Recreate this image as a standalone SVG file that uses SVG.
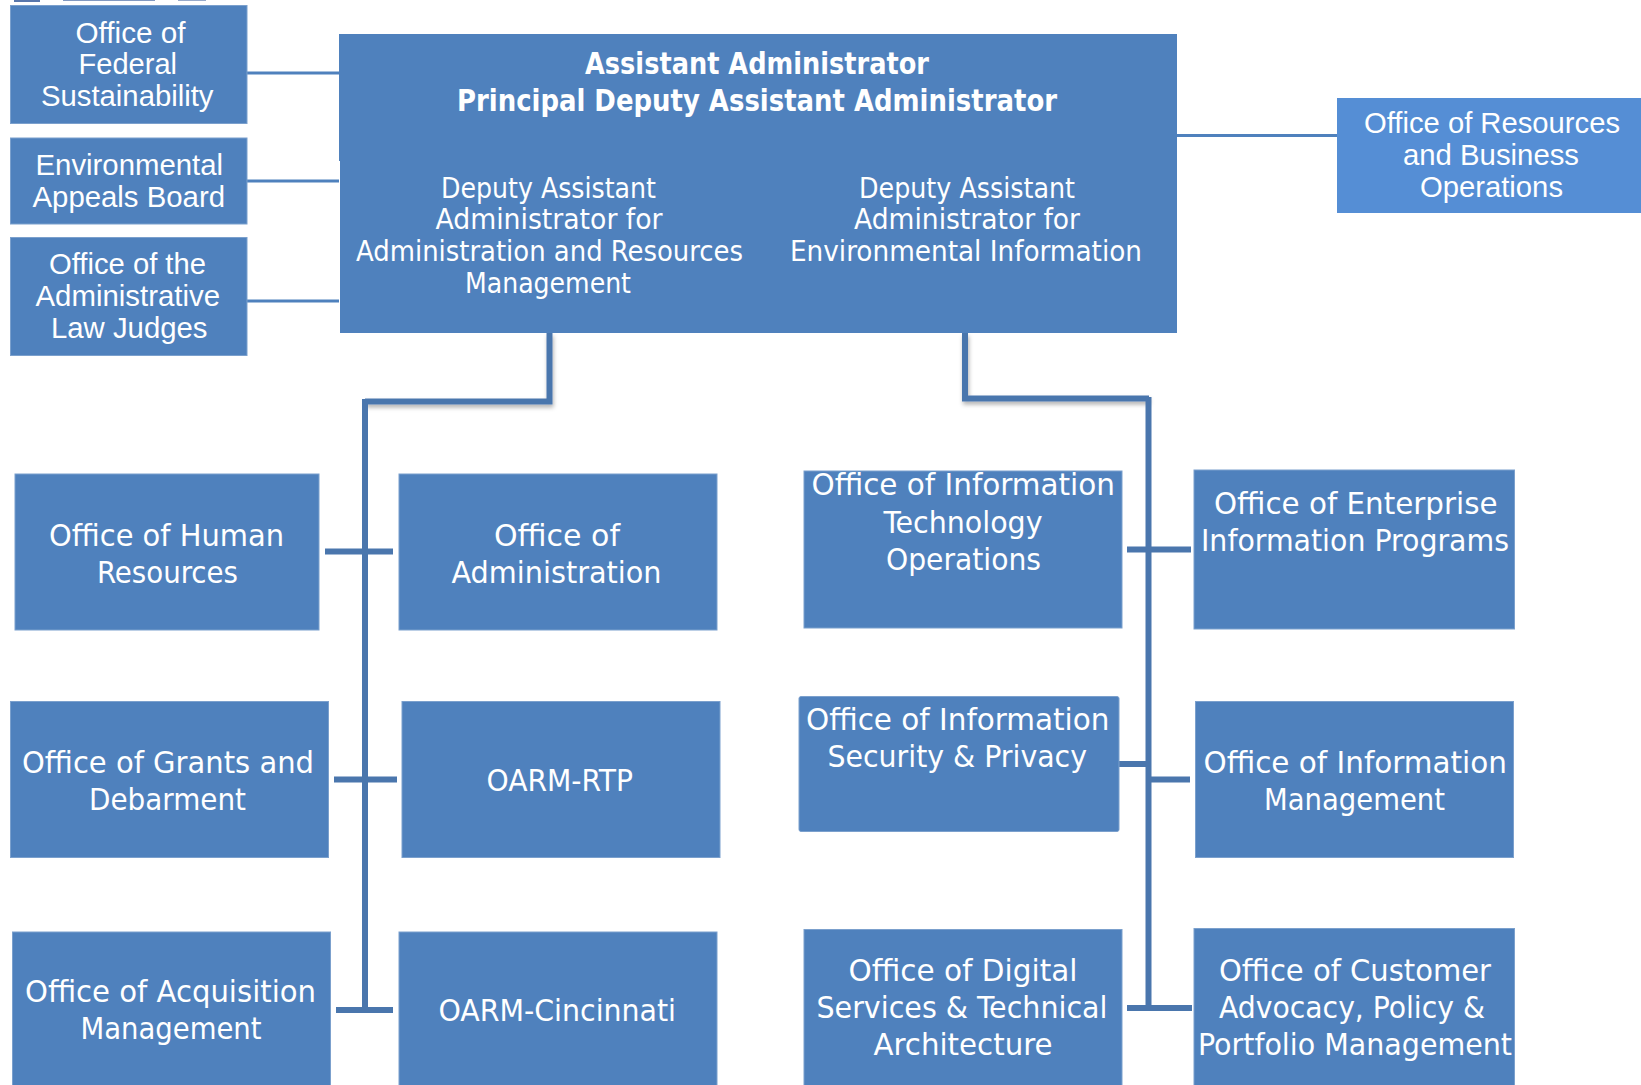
<svg xmlns="http://www.w3.org/2000/svg" width="1641" height="1085" viewBox="0 0 1641 1085">
<style>
.b{fill:#4f81bd;stroke:#7ba0cd;stroke-width:1}
.r{fill:#558ed5}
.p{fill:none;stroke:#4a76ad;stroke-width:6}
.t{fill:none;stroke:#4f81bd;stroke-width:3}
text{fill:#fff}
.a{font-family:"Liberation Sans",Arial,sans-serif;font-size:30px}
.d{font-family:"DejaVu Sans Condensed","DejaVu Sans",sans-serif;font-size:31px}
.s{font-size:28px}
.h{font-weight:bold;font-size:30px}
</style>
<defs><filter id="sh" x="-20%" y="-20%" width="140%" height="140%"><feDropShadow dx="1" dy="3" stdDeviation="2" flood-color="#000" flood-opacity=".3"/></filter></defs>
<g id="logo-fragment" fill="#2f5597"><rect x="14" y="0" width="26" height="2" opacity=".8"/><rect x="63" y="0" width="92" height="1" opacity=".6"/><rect x="178" y="0" width="28" height="1" opacity=".5"/></g>
<g id="connectors">
<path class="t" d="M247 73H339M247 181H339M247 301H339M1176 135.500H1337"/>
<path class="p" filter="url(#sh)" d="M549.500 333V401.500H365M965 333V398.500H1149"/>
<path class="p" d="M365 399V1010M1148.500 397V1008M325 551.500H393M334 779.500H397M336 1010H393M1127 549.500H1191M1119 764H1148M1151 779.500H1190M1127 1008H1192"/>
</g>
<g id="federal"><rect class="b" x="10.500" y="5.500" width="236.500" height="118"/><text class="a" x="75.500" y="42.500" textLength="110" lengthAdjust="spacingAndGlyphs">Office of</text><text class="a" x="78.500" y="74" textLength="98.500" lengthAdjust="spacingAndGlyphs">Federal</text><text class="a" x="41" y="106" textLength="172.500" lengthAdjust="spacingAndGlyphs">Sustainability</text></g>
<g id="appeals"><rect class="b" x="10.500" y="138" width="236.500" height="86"/><text class="a" x="35.500" y="175" textLength="187.500" lengthAdjust="spacingAndGlyphs">Environmental</text><text class="a" x="32.500" y="207" textLength="192.500" lengthAdjust="spacingAndGlyphs">Appeals Board</text></g>
<g id="alj"><rect class="b" x="10.500" y="237.500" width="236.500" height="118"/><text class="a" x="49" y="274" textLength="157" lengthAdjust="spacingAndGlyphs">Office of the</text><text class="a" x="35.500" y="306" textLength="184.500" lengthAdjust="spacingAndGlyphs">Administrative</text><text class="a" x="51" y="338" textLength="156.500" lengthAdjust="spacingAndGlyphs">Law Judges</text></g>
<g id="main"><path fill="#4f81bd" d="M339 34H1177V333H340V161H339Z"/>
<g class="d"><text class="h" x="585" y="74" textLength="344" lengthAdjust="spacingAndGlyphs">Assistant Administrator</text><text class="h" x="457" y="111" textLength="600" lengthAdjust="spacingAndGlyphs">Principal Deputy Assistant Administrator</text>
<g class="s"><text x="441" y="197.500" textLength="215" lengthAdjust="spacingAndGlyphs">Deputy Assistant</text><text x="435.500" y="229" textLength="227" lengthAdjust="spacingAndGlyphs">Administrator for</text><text x="356" y="261" textLength="387" lengthAdjust="spacingAndGlyphs">Administration and Resources</text><text x="465" y="293" textLength="166" lengthAdjust="spacingAndGlyphs">Management</text>
<text x="859" y="197.500" textLength="216" lengthAdjust="spacingAndGlyphs">Deputy Assistant</text><text x="854" y="229" textLength="226" lengthAdjust="spacingAndGlyphs">Administrator for</text><text x="790" y="261" textLength="352" lengthAdjust="spacingAndGlyphs">Environmental Information</text></g></g></g>
<g id="resources"><rect class="r" x="1337" y="98" width="304" height="115"/><text class="a" x="1364" y="133" textLength="256" lengthAdjust="spacingAndGlyphs">Office of Resources</text><text class="a" x="1403" y="165" textLength="176" lengthAdjust="spacingAndGlyphs">and Business</text><text class="a" x="1420" y="197" textLength="143" lengthAdjust="spacingAndGlyphs">Operations</text></g>
<g class="d">
<g id="human"><rect class="b" x="15" y="474" width="304" height="156"/><text x="49" y="546" textLength="235" lengthAdjust="spacingAndGlyphs">Office of Human</text><text x="97" y="583" textLength="141" lengthAdjust="spacingAndGlyphs">Resources</text></g>
<g id="administration"><rect class="b" x="399" y="474" width="318" height="156"/><text x="494" y="546" textLength="126" lengthAdjust="spacingAndGlyphs">Office of</text><text x="451.500" y="583" textLength="210" lengthAdjust="spacingAndGlyphs">Administration</text></g>
<g id="grants"><rect class="b" x="10.500" y="701.500" width="318" height="156"/><text x="22" y="773" textLength="292" lengthAdjust="spacingAndGlyphs">Office of Grants and</text><text x="89" y="810" textLength="157" lengthAdjust="spacingAndGlyphs">Debarment</text></g>
<g id="rtp"><rect class="b" x="402" y="701.500" width="318" height="156"/><text x="486.500" y="791" textLength="146.500" lengthAdjust="spacingAndGlyphs">OARM-RTP</text></g>
<g id="acquisition"><rect class="b" x="12.500" y="932" width="318" height="156"/><text x="25" y="1002" textLength="291" lengthAdjust="spacingAndGlyphs">Office of Acquisition</text><text x="80.500" y="1039" textLength="181" lengthAdjust="spacingAndGlyphs">Management</text></g>
<g id="cincinnati"><rect class="b" x="399" y="932" width="318" height="156"/><text x="438.500" y="1021" textLength="237.500" lengthAdjust="spacingAndGlyphs">OARM-Cincinnati</text></g>
<g id="it-ops"><rect class="b" x="804" y="471" width="318" height="157"/><text x="811.500" y="495" textLength="303.500" lengthAdjust="spacingAndGlyphs">Office of Information</text><text x="883.500" y="533" textLength="159" lengthAdjust="spacingAndGlyphs">Technology</text><text x="886" y="570" textLength="155" lengthAdjust="spacingAndGlyphs">Operations</text></g>
<g id="enterprise"><rect class="b" x="1194" y="470" width="320.500" height="159"/><text x="1214" y="514" textLength="283.500" lengthAdjust="spacingAndGlyphs">Office of Enterprise</text><text x="1201" y="551" textLength="308" lengthAdjust="spacingAndGlyphs">Information Programs</text></g>
<g id="security"><rect class="b" x="799" y="696.500" width="320" height="135" rx="2"/><text x="806" y="730" textLength="303.500" lengthAdjust="spacingAndGlyphs">Office of Information</text><text x="827.500" y="767" textLength="259.500" lengthAdjust="spacingAndGlyphs">Security &amp; Privacy</text></g>
<g id="info-mgmt"><rect class="b" x="1195.500" y="701.500" width="318" height="156"/><text x="1203.500" y="773" textLength="303.500" lengthAdjust="spacingAndGlyphs">Office of Information</text><text x="1264" y="810" textLength="181" lengthAdjust="spacingAndGlyphs">Management</text></g>
<g id="digital"><rect class="b" x="804" y="929.500" width="318" height="160"/><text x="848.500" y="981" textLength="229" lengthAdjust="spacingAndGlyphs">Office of Digital</text><text x="816.500" y="1018" textLength="291" lengthAdjust="spacingAndGlyphs">Services &amp; Technical</text><text x="873.500" y="1055" textLength="179" lengthAdjust="spacingAndGlyphs">Architecture</text></g>
<g id="customer"><rect class="b" x="1194" y="928.500" width="320.500" height="160"/><text x="1219" y="981" textLength="272" lengthAdjust="spacingAndGlyphs">Office of Customer</text><text x="1219" y="1018" textLength="266" lengthAdjust="spacingAndGlyphs">Advocacy, Policy &amp;</text><text x="1198" y="1055" textLength="314" lengthAdjust="spacingAndGlyphs">Portfolio Management</text></g>
</g>
</svg>
